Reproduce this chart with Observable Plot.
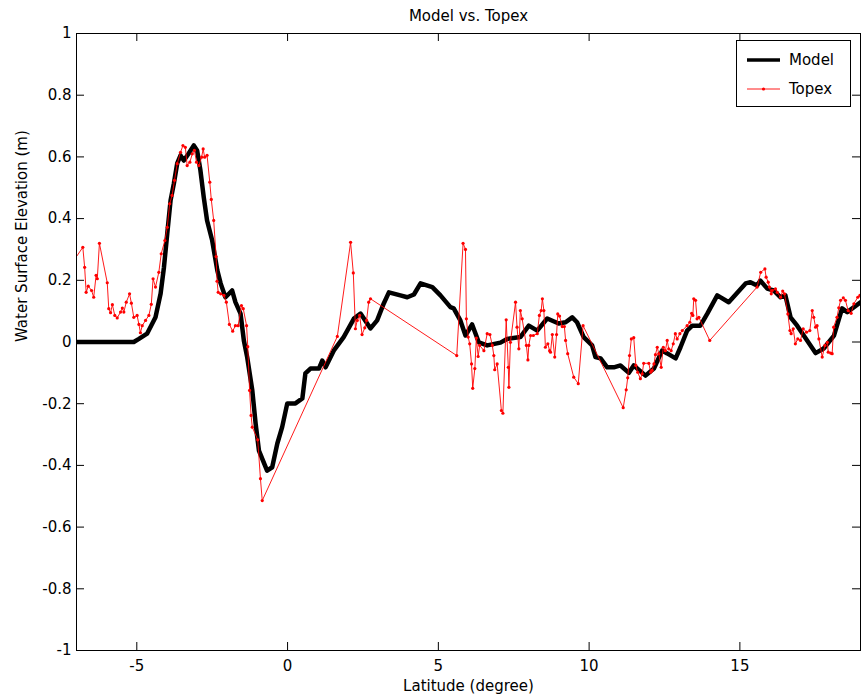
<!DOCTYPE html>
<html><head><meta charset="utf-8">
<script src="https://cdn.jsdelivr.net/npm/d3@7"></script>
<script src="https://cdn.jsdelivr.net/npm/@observablehq/plot@0.6"></script>
<style>
html,body{margin:0;padding:0;background:#fff;}
#wrap{position:relative;width:868px;height:699px;}
#legend{position:absolute;left:736px;top:40px;}
</style></head><body><div id="wrap"></div>
<script>
// ---- data ----
const modelLat = [-7, -5.1, -4.93, -4.66, -4.38, -4.21, -4.10, -3.99, -3.88, -3.77,
  -3.66, -3.55, -3.44, -3.28, -3.11, -3.00, -2.89, -2.78, -2.67, -2.50,
  -2.33, -2.22, -2.06, -1.84, -1.73, -1.56, -1.45, -1.34, -1.17, -1.06,
  -0.95, -0.68, -0.51, -0.34, -0.18, -0.01, 0.26, 0.49, 0.59, 0.76,
  1.04, 1.15, 1.26, 1.53, 1.86, 1.98, 2.20, 2.42, 2.75, 2.97,
  3.19, 3.36, 3.74, 3.97, 4.19, 4.41, 4.80, 5.07, 5.40, 5.51,
  5.73, 5.90, 6.12, 6.34, 6.62, 7.06, 7.28, 7.72, 8.00, 8.28,
  8.61, 8.99, 9.22, 9.44, 9.60, 9.82, 10.10, 10.21, 10.38, 10.60,
  10.82, 11.04, 11.32, 11.48, 11.87, 12.15, 12.42, 12.59, 12.87, 13.03,
  13.25, 13.42, 13.69, 13.92, 14.25, 14.63, 15.19, 15.35, 15.57, 15.68,
  15.91, 16.12, 16.35, 16.51, 16.68, 16.90, 17.23, 17.51, 17.78, 18.12,
  18.39, 18.56, 19.0];
const modelElev = [0, 0, 0.010, 0.027, 0.080, 0.157, 0.242, 0.352, 0.459, 0.514,
  0.579, 0.605, 0.588, 0.611, 0.637, 0.621, 0.556, 0.469, 0.394, 0.329,
  0.232, 0.190, 0.145, 0.167, 0.129, 0.092, 0.005, -0.049, -0.157, -0.264,
  -0.352, -0.417, -0.406, -0.329, -0.276, -0.199, -0.199, -0.183, -0.102, -0.086,
  -0.086, -0.060, -0.082, -0.028, 0.016, 0.037, 0.076, 0.092, 0.044, 0.070,
  0.125, 0.161, 0.151, 0.145, 0.154, 0.190, 0.178, 0.151, 0.113, 0.109,
  0.070, 0.021, 0.057, -0.001, -0.011, -0.002, 0.010, 0.016, 0.053, 0.037,
  0.076, 0.060, 0.064, 0.080, 0.064, 0.016, -0.011, -0.049, -0.053, -0.082,
  -0.082, -0.076, -0.100, -0.076, -0.109, -0.086, -0.028, -0.037, -0.053, -0.017,
  0.037, 0.053, 0.053, 0.092, 0.151, 0.129, 0.190, 0.194, 0.183, 0.199,
  0.173, 0.167, 0.145, 0.151, 0.080, 0.053, 0.005, -0.036, -0.021, 0.021,
  0.109, 0.097, 0.129];

const topexLat = [-7.05, -6.79, -6.73, -6.68, -6.61, -6.50, -6.43, -6.35, -6.31, -6.24,
  -5.98, -5.93, -5.87, -5.81, -5.73, -5.65, -5.54, -5.48, -5.43, -5.35,
  -5.24, -5.18, -5.10, -4.99, -4.93, -4.88, -4.82, -4.71, -4.60, -4.52,
  -4.46, -4.38, -4.27, -4.19, -4.07, -3.99, -3.91, -3.83, -3.75, -3.66,
  -3.55, -3.47, -3.39, -3.33, -3.24, -3.16, -3.09, -3.02, -2.94, -2.85,
  -2.80, -2.75, -2.67, -2.58, -2.53, -2.45, -2.37, -2.34, -2.30, -2.22,
  -2.11, -2.03, -1.93, -1.82, -1.73, -1.64, -1.53, -1.47, -1.36, -1.32,
  -1.26, -1.21, -1.17, -0.99, -0.90, -0.84, 1.65, 2.09, 2.18, 2.25,
  2.31, 2.39, 2.47, 2.56, 2.62, 2.69, 2.75, 5.61, 5.82, 5.90,
  5.93, 5.99, 6.04, 6.10, 6.14, 6.21, 6.26, 6.32, 6.37, 6.51,
  6.62, 6.71, 6.79, 6.84, 6.87, 6.95, 7.09, 7.14, 7.25, 7.32,
  7.34, 7.39, 7.56, 7.61, 7.67, 7.72, 7.78, 7.92, 7.97, 8.00,
  8.06, 8.15, 8.28, 8.35, 8.41, 8.45, 8.50, 8.55, 8.63, 8.69,
  8.72, 8.78, 8.86, 8.92, 8.96, 9.02, 9.11, 9.18, 9.22, 9.29,
  9.49, 9.64, 9.80, 11.13, 11.23, 11.28, 11.34, 11.40, 11.48, 11.55,
  11.61, 11.70, 11.76, 11.81, 11.98, 12.04, 12.09, 12.15, 12.20, 12.26,
  12.31, 12.39, 12.46, 12.53, 12.59, 12.64, 12.72, 12.79, 12.86, 12.92,
  13.01, 13.09, 13.25, 13.34, 13.40, 13.44, 13.47, 13.53, 13.58, 13.64,
  14.00, 15.57, 15.69, 15.83, 15.87, 15.94, 15.98, 16.04, 16.07, 16.18,
  16.24, 16.35, 16.42, 16.48, 16.59, 16.66, 16.70, 16.77, 16.84, 16.92,
  17.01, 17.10, 17.21, 17.32, 17.40, 17.45, 17.51, 17.56, 17.62, 17.73,
  17.82, 17.90, 17.93, 18.01, 18.06, 18.11, 18.22, 18.28, 18.34, 18.43,
  18.50, 18.59, 18.69, 18.78, 18.91, 18.98];
const topexElev = [0.270, 0.307, 0.242, 0.161, 0.181, 0.167, 0.145, 0.216, 0.205, 0.320,
  0.192, 0.108, 0.095, 0.121, 0.086, 0.078, 0.097, 0.110, 0.097, 0.129,
  0.156, 0.126, 0.080, 0.086, 0.057, 0.030, 0.053, 0.070, 0.086, 0.122,
  0.205, 0.178, 0.226, 0.286, 0.329, 0.372, 0.448, 0.475, 0.524, 0.578,
  0.615, 0.637, 0.631, 0.572, 0.583, 0.610, 0.621, 0.583, 0.572, 0.599,
  0.626, 0.599, 0.605, 0.518, 0.462, 0.394, 0.277, 0.197, 0.161, 0.156,
  0.151, 0.129, 0.057, 0.035, 0.053, 0.053, 0.118, 0.108, 0.053, -0.015,
  -0.157, -0.238, -0.276, -0.317, -0.443, -0.514, 0.018, 0.323, 0.224, 0.043,
  0.070, 0.086, 0.024, 0.046, 0.070, 0.129, 0.140, -0.044, 0.320, 0.300,
  0.075, 0.016, -0.006, -0.071, -0.150, -0.086, 0.013, -0.047, -0.011, -0.028,
  0.027, 0.024, -0.011, -0.044, -0.090, -0.071, -0.222, -0.231, 0.072, -0.082,
  -0.147, -0.001, 0.129, 0.048, -0.022, 0.102, 0.075, -0.011, -0.058, -0.011,
  0.021, 0.021, 0.027, 0.086, 0.102, 0.140, 0.102, -0.017, -0.006, -0.028,
  -0.033, 0.024, -0.049, 0.024, 0.091, 0.084, 0.050, 0.050, 0.005, -0.038,
  -0.114, -0.135, 0.053, -0.213, -0.155, -0.116, -0.044, 0.010, 0.014, -0.076,
  -0.098, -0.119, -0.103, -0.069, -0.069, -0.098, -0.092, -0.071, -0.041, -0.017,
  -0.038, -0.082, -0.017, -0.028, 0.005, -0.022, -0.028, -0.006, 0.027, 0.010,
  0.027, 0.037, 0.053, 0.064, 0.093, 0.086, 0.140, 0.135, 0.075, 0.080,
  0.005, 0.178, 0.226, 0.237, 0.210, 0.194, 0.178, 0.156, 0.167, 0.172,
  0.161, 0.145, 0.165, 0.156, 0.091, 0.037, 0.027, 0.043, -0.006, 0.010,
  0.005, 0.043, 0.032, 0.037, 0.102, 0.080, 0.048, 0.053, 0.010, -0.049,
  -0.011, -0.001, -0.033, -0.036, -0.038, 0.048, 0.080, 0.111, 0.135, 0.143,
  0.135, 0.102, 0.093, 0.124, 0.145, 0.151];

const xTicks = [-5, 0, 5, 10, 15];
const xTickLabels = ["-5", "0", "5", "10", "15"];
const yTicks = [-1, -0.8, -0.6, -0.4, -0.2, 0, 0.2, 0.4, 0.6, 0.8, 1];
const yTickLabels = ["-1", "-0.8", "-0.6", "-0.4", "-0.2", "0", "0.2", "0.4", "0.6", "0.8", "1"];
const titleText = "Model vs. Topex";
const xLabel = "Latitude (degree)";
const yLabel = "Water Surface Elevation (m)";
const seriesNames = ["Model", "Topex"];

// ---- chart ----
const W = 868, H = 699, mL = 76, mR = 8, mT = 33, mB = 49;
const innerW = W - mL - mR, innerH = H - mT - mB;
const TL = 8; // inward tick length
const FONT = "DejaVu Sans";

const model = modelLat.map((x, i) => ({lat: x, elev: modelElev[i]}));
const topex = topexLat.map((x, i) => ({lat: x, elev: topexElev[i]}));

const chart = Plot.plot({
  width: W, height: H,
  marginLeft: mL, marginRight: mR, marginTop: mT, marginBottom: mB,
  style: {fontFamily: FONT, fontSize: "15px", background: "#fff", color: "#000"},
  x: {domain: [-7, 19]},
  y: {domain: [-1, 1]},
  marks: [
    Plot.line(model, {x: "lat", y: "elev", stroke: "#000", strokeWidth: 4.5, clip: true}),
    Plot.line(topex, {x: "lat", y: "elev", stroke: "#ff0000", strokeWidth: 0.9, clip: true}),
    Plot.dot(topex, {x: "lat", y: "elev", r: 1.6, fill: "#ff0000", stroke: null, clip: true}),
    Plot.tickX(xTicks, {x: d => d, stroke: "#000", insetTop: innerH - TL}),
    Plot.tickX(xTicks, {x: d => d, stroke: "#000", insetBottom: innerH - TL}),
    Plot.tickY(yTicks, {y: d => d, stroke: "#000", insetRight: innerW - TL}),
    Plot.tickY(yTicks, {y: d => d, stroke: "#000", insetLeft: innerW - TL}),
    Plot.frame({stroke: "#000"}),
    Plot.axisX(xTicks, {tickSize: 0, tickPadding: 10, label: null, fontSize: 15,
      tickFormat: d => xTickLabels[xTicks.indexOf(d)]}),
    Plot.axisY(yTicks, {tickSize: 0, tickPadding: 5, label: null, fontSize: 15,
      tickFormat: d => yTickLabels[yTicks.indexOf(d)]}),
    Plot.text([titleText], {text: d => d, frameAnchor: "top", dy: -17, lineAnchor: "middle", fontSize: 15}),
    Plot.text([xLabel], {text: d => d, frameAnchor: "bottom", dy: 36, lineAnchor: "middle", fontSize: 15}),
    Plot.text([yLabel], {text: d => d, frameAnchor: "left", dx: -54, rotate: -90, lineAnchor: "middle", fontSize: 15})
  ]
});
const wrap = document.getElementById("wrap");
wrap.appendChild(chart);

// ---- legend ----
const lg = d3.select(wrap).append("svg").attr("id", "legend")
  .attr("width", 115).attr("height", 67)
  .style("font-family", FONT).style("font-size", "15px");
lg.append("rect").attr("x", 0.5).attr("y", 0.5).attr("width", 114).attr("height", 66)
  .attr("fill", "#fff").attr("stroke", "#000");
const rows = [
  {name: seriesNames[0], y: 20, stroke: "#000", sw: 3.5, dot: false},
  {name: seriesNames[1], y: 49, stroke: "#ff0000", sw: 0.9, dot: true}
];
rows.forEach(r => {
  lg.append("line").attr("x1", 11).attr("x2", 44).attr("y1", r.y).attr("y2", r.y)
    .attr("stroke", r.stroke).attr("stroke-width", r.sw);
  if (r.dot) lg.append("circle").attr("cx", 27.5).attr("cy", r.y).attr("r", 1.6).attr("fill", "#ff0000");
  lg.append("text").attr("x", 53).attr("y", r.y).attr("dy", "0.35em").text(r.name);
});
</script>
</body></html>
